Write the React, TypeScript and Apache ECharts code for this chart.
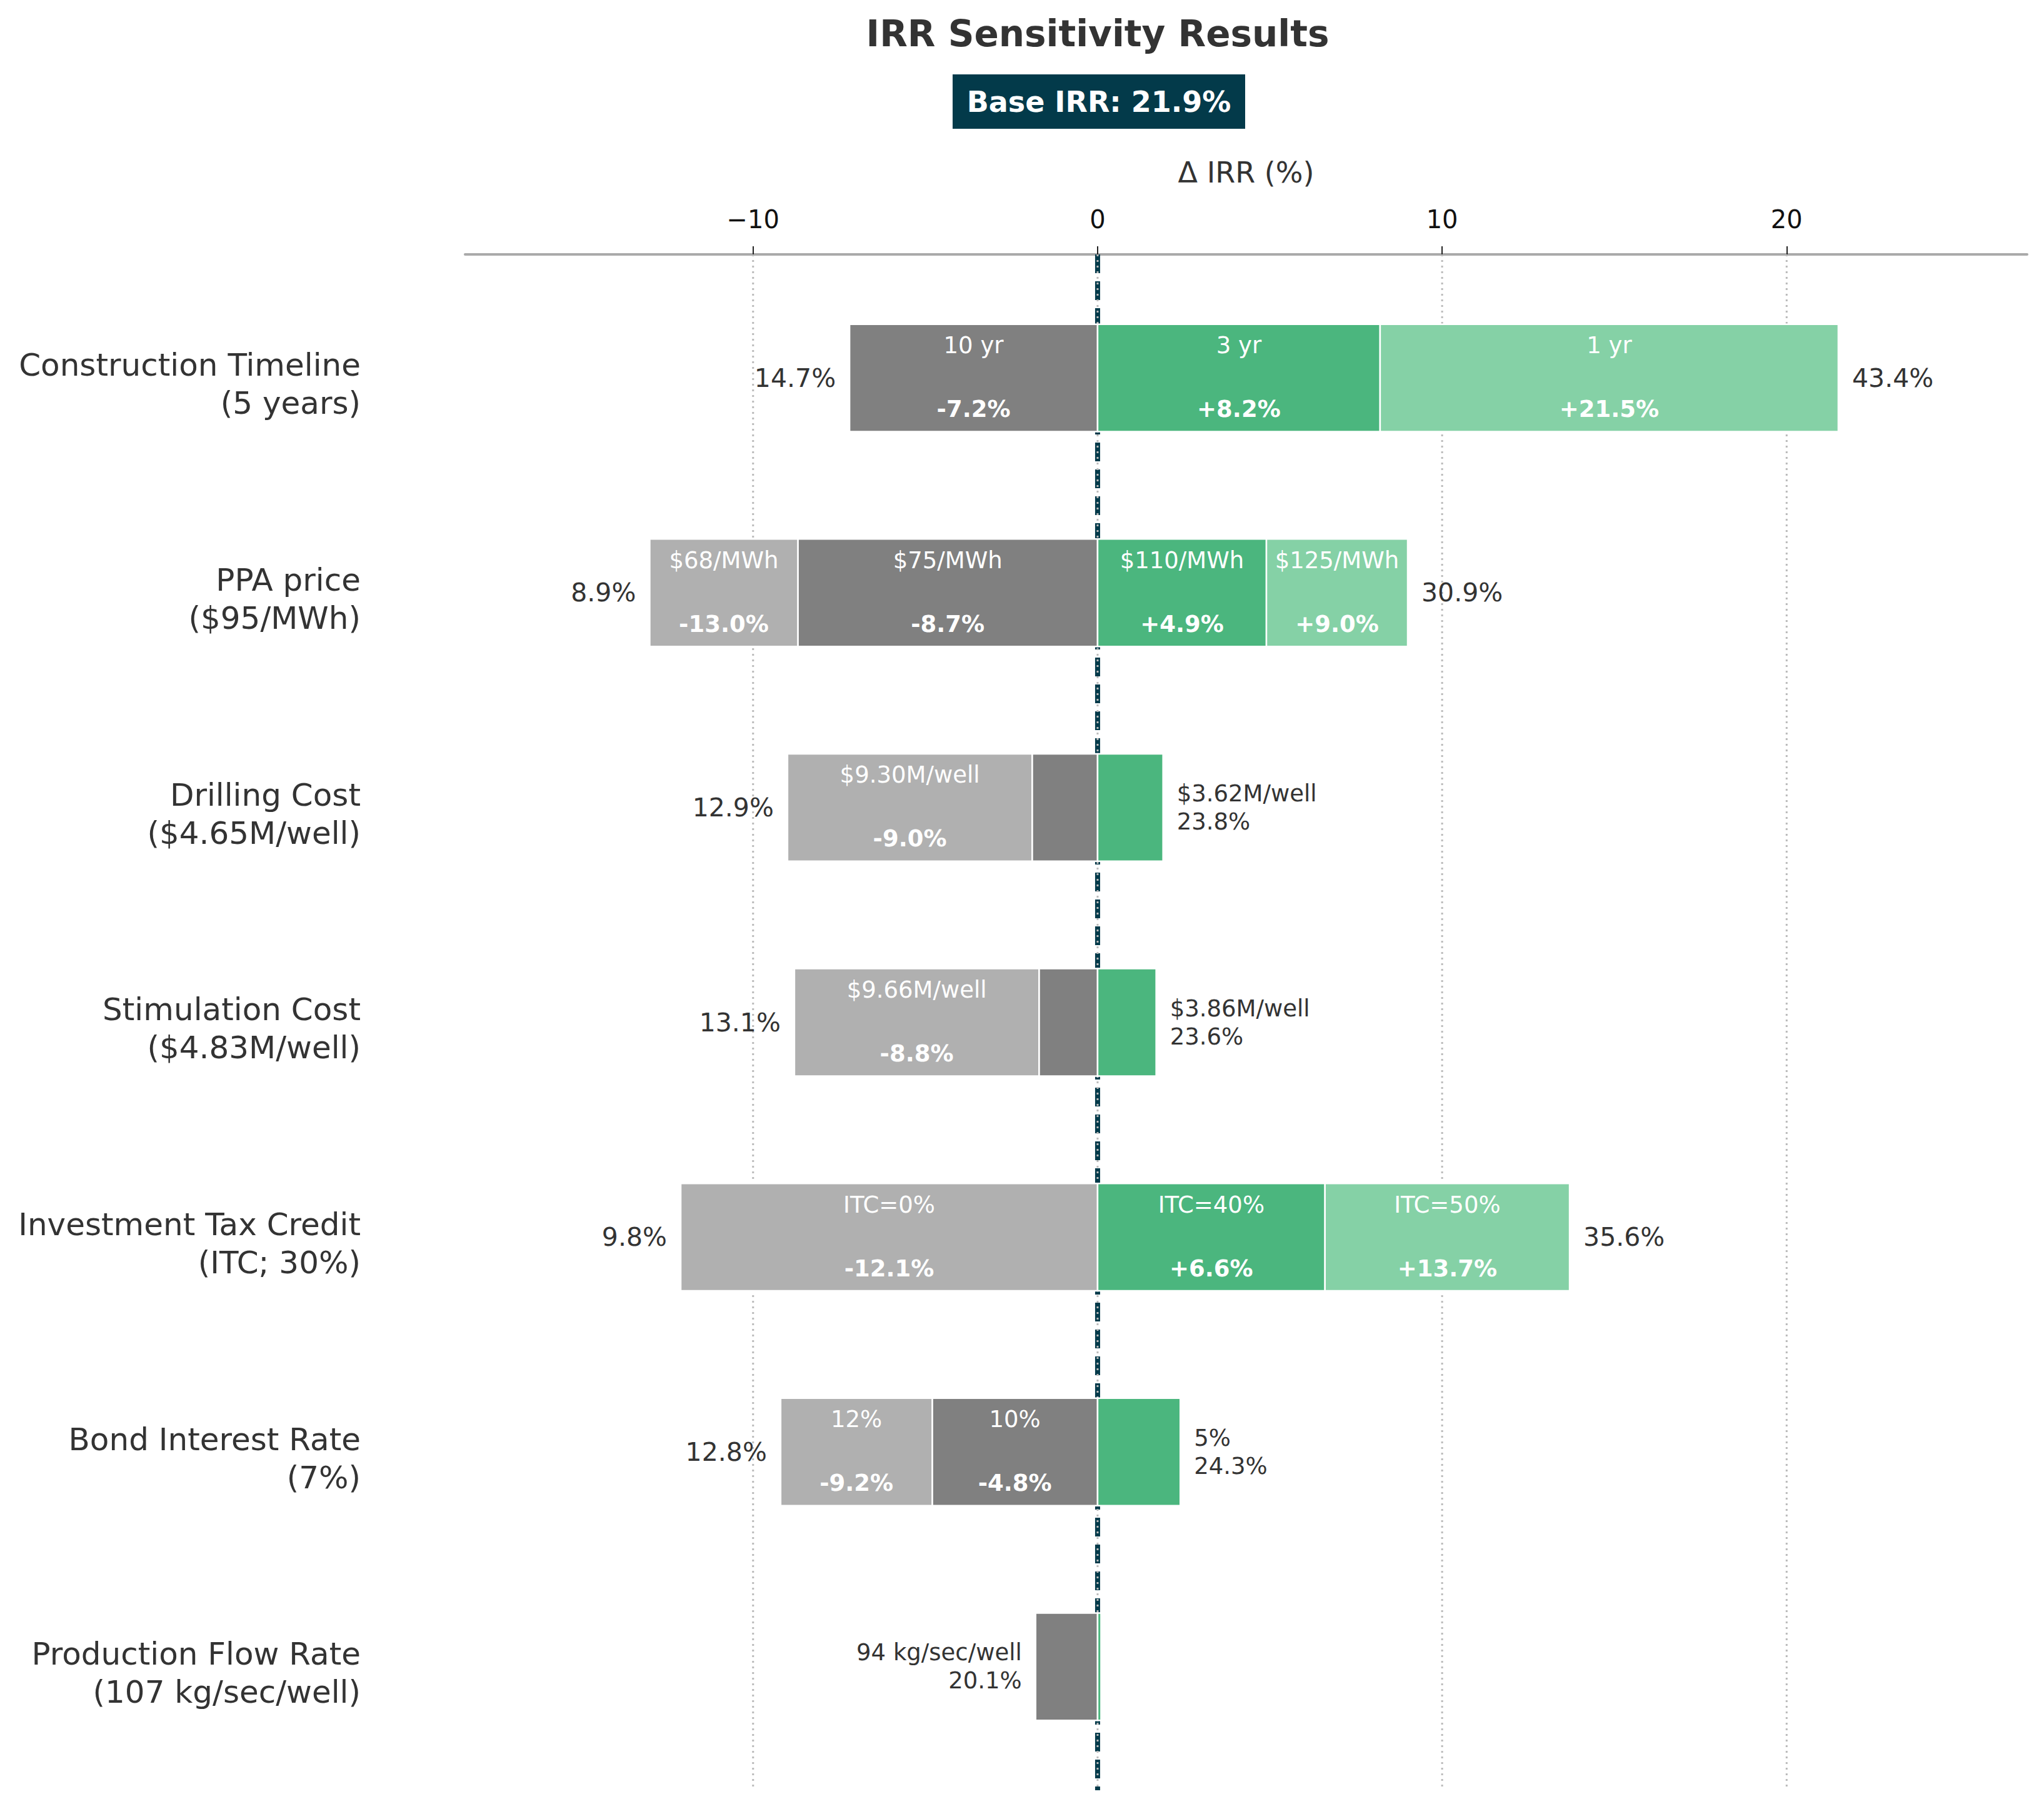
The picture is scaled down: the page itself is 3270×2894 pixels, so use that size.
import React, { useEffect, useRef } from 'react';
import * as echarts from 'echarts';

// factors, top to bottom
const factors = [
  'Construction Timeline\n(5 years)',
  'PPA price\n($95/MWh)',
  'Drilling Cost\n($4.65M/well)',
  'Stimulation Cost\n($4.83M/well)',
  'Investment Tax Credit\n(ITC; 30%)',
  'Bond Interest Rate\n(7%)',
  'Production Flow Rate\n(107 kg/sec/well)',
];

const baseIrr = 21.9;

// change in IRR (percentage points) per case
const lowInner = [-7.2, -8.7, -1.9, -1.7, null, -4.8, -1.8];
const lowOuter = [null, -13.0, -9.0, -8.8, -12.1, -9.2, null];
const highInner = [8.2, 4.9, 1.9, 1.7, 6.6, 2.4, 0.1];
const highOuter = [21.5, 9.0, null, null, 13.7, null, null];

const lowInnerNames = ['10 yr', '$75/MWh', null, null, null, '10%', '94 kg/sec/well'];
const lowOuterNames = [null, '$68/MWh', '$9.30M/well', '$9.66M/well', 'ITC=0%', '12%', null];
const highInnerNames = ['3 yr', '$110/MWh', '$3.62M/well', '$3.86M/well', 'ITC=40%', '5%', null];
const highOuterNames = ['1 yr', '$125/MWh', null, null, 'ITC=50%', null, null];

// resulting IRR at the extreme case of each side
const lowIrr = [14.7, 8.9, 12.9, 13.1, 9.8, 12.8, 20.1];
const highIrr = [43.4, 30.9, 23.8, 23.6, 35.6, 24.3, null];

const xTicks = [-10, 0, 10, 20];

const FONT = 'DejaVu Sans';
const DARK_GRAY = '#808080';
const LIGHT_GRAY = '#b0b0b0';
const GREEN = '#4bb67e';
const LIGHT_GREEN = '#85d1a6';
const TEAL = '#033a4a';

const Y_MIN = -0.575;
const Y_MAX = 6.575;

type Seg = {
  row: number;
  start: number;
  end: number;
  color: string;
  name: string | null;
  outer: boolean;
  irr: number | null;
  side: number;
};

const buildSegments = () => {
  const segs: Seg[] = [];
  factors.forEach((_, i) => {
    const li = lowInner[i];
    const lo = lowOuter[i];
    if (li != null)
      segs.push({ row: i, start: 0, end: li, color: DARK_GRAY, name: lowInnerNames[i], outer: lo == null, irr: lowIrr[i], side: -1 });
    if (lo != null)
      segs.push({ row: i, start: li ?? 0, end: lo, color: LIGHT_GRAY, name: lowOuterNames[i], outer: true, irr: lowIrr[i], side: -1 });
    const hi = highInner[i];
    const ho = highOuter[i];
    if (hi != null)
      segs.push({ row: i, start: 0, end: hi, color: GREEN, name: highInnerNames[i], outer: ho == null, irr: highIrr[i], side: 1 });
    if (ho != null)
      segs.push({ row: i, start: hi ?? 0, end: ho, color: LIGHT_GREEN, name: highOuterNames[i], outer: true, irr: highIrr[i], side: 1 });
  });
  return segs;
};

const fmtDelta = (v: number) => `${v > 0 ? '+' : ''}${v.toFixed(1)}%`;

const App = () => {
  const chartRef = useRef<any>(null);

  useEffect(() => {
    const chart = echarts.init(chartRef.current, null, { renderer: 'svg' });
    const segments = buildSegments();

    const option: any = {
      animation: false,
      backgroundColor: '#ffffff',
      textStyle: { fontFamily: FONT },
      grid: { left: 744, right: 27, top: 407, bottom: 30, containLabel: false },
      xAxis: {
        type: 'value',
        position: 'top',
        min: -18.36,
        max: 26.98,
        name: 'Δ IRR (%)',
        nameLocation: 'middle',
        nameGap: 108,
        nameTextStyle: { fontSize: 46, color: '#333333', fontFamily: FONT },
        axisLine: { show: true, onZero: false, lineStyle: { color: '#aaaaaa', width: 4 } },
        axisTick: { show: true, customValues: xTicks, length: 13, lineStyle: { color: '#222222', width: 2 } },
        axisLabel: {
          customValues: xTicks,
          fontSize: 40,
          color: '#111111',
          margin: 36,
          fontFamily: FONT,
          formatter: (v: number) => (v < 0 ? '\u2212' + Math.abs(v) : String(v)),
        },
        splitLine: { show: false },
      },
      yAxis: {
        type: 'value',
        inverse: true,
        min: Y_MIN,
        max: Y_MAX,
        axisLine: { show: false },
        axisTick: { show: false },
        splitLine: { show: false },
        axisLabel: {
          // matplotlib sets the two-line labels a touch below the bar centre
          customValues: factors.map((_, i) => i + 0.03),
          formatter: (v: number) => factors[Math.round(v)] ?? '',
          fontSize: 50,
          lineHeight: 61,
          color: '#333333',
          margin: 167,
          fontFamily: FONT,
        },
      },
      graphic: [
        {
          type: 'text',
          x: 1756,
          y: 54,
          style: {
            text: 'IRR Sensitivity Results',
            fill: '#333333',
            fontSize: 58,
            fontWeight: 'bold',
            fontFamily: FONT,
            align: 'center',
            verticalAlign: 'middle',
          },
        },
        {
          type: 'rect',
          shape: { x: 1524, y: 119, width: 468, height: 87 },
          style: { fill: TEAL },
        },
        {
          type: 'text',
          x: 1758,
          y: 163,
          style: {
            text: `Base IRR: ${baseIrr.toFixed(1)}%`,
            fill: '#ffffff',
            fontSize: 46,
            fontWeight: 'bold',
            fontFamily: FONT,
            align: 'center',
            verticalAlign: 'middle',
          },
        },
      ],
      series: [
        {
          // base-case line at zero
          type: 'custom',
          z: 1,
          silent: true,
          data: [[0, 0]],
          encode: { x: 0, y: 1 },
          renderItem: (params: any, api: any) => {
            const a = api.coord([api.value(0), Y_MIN]);
            const b = api.coord([api.value(0), Y_MAX]);
            return {
              type: 'line',
              shape: { x1: a[0], y1: a[1], x2: b[0], y2: b[1] },
              style: { stroke: TEAL, lineWidth: 8, lineDash: [30, 13] },
            };
          },
        },
        {
          // dotted vertical grid
          type: 'custom',
          z: 2,
          silent: true,
          data: xTicks.map((t) => [t, 0]),
          encode: { x: 0, y: 1 },
          renderItem: (params: any, api: any) => {
            const a = api.coord([api.value(0), Y_MIN]);
            const b = api.coord([api.value(0), Y_MAX]);
            return {
              type: 'line',
              shape: { x1: a[0], y1: a[1], x2: b[0], y2: b[1] },
              style: { stroke: '#bbbbbb', lineWidth: 3, lineDash: [3, 6] },
            };
          },
        },
        {
          type: 'custom',
          z: 3,
          silent: true,
          data: segments.map((s) => [s.start, s.end, s.row]),
          encode: { x: [0, 1], y: 2 },
          renderItem: (params: any, api: any) => {
            const seg = segments[params.dataIndex];
            const a = api.coord([api.value(0), api.value(2)]);
            const b = api.coord([api.value(1), api.value(2)]);
            const h = api.size([0, 0.5])[1];
            const x0 = Math.min(a[0], b[0]);
            const w = Math.abs(b[0] - a[0]);
            const cy = a[1];
            const cx = x0 + w / 2;
            const children: any[] = [
              {
                type: 'rect',
                shape: { x: x0, y: cy - h / 2, width: w, height: h },
                style: { fill: seg.color, stroke: '#ffffff', lineWidth: 2.5 },
              },
            ];
            const span = Math.abs(seg.end - seg.start);
            if (seg.name && span >= 2.5) {
              children.push(
                {
                  type: 'text',
                  x: cx,
                  y: cy - 52,
                  style: { text: seg.name, fill: '#ffffff', fontSize: 37, fontFamily: FONT, align: 'center', verticalAlign: 'middle' },
                },
                {
                  type: 'text',
                  x: cx,
                  y: cy + 50,
                  style: {
                    text: fmtDelta(seg.end),
                    fill: '#ffffff',
                    fontSize: 37,
                    fontWeight: 'bold',
                    fontFamily: FONT,
                    align: 'center',
                    verticalAlign: 'middle',
                  },
                }
              );
            }
            if (seg.outer && seg.irr != null) {
              const edge = seg.side > 0 ? x0 + w : x0;
              const narrow = span < 2.5 && seg.name;
              children.push({
                type: 'text',
                x: edge + seg.side * 22,
                y: cy,
                style: {
                  text: narrow ? `${seg.name}\n${seg.irr.toFixed(1)}%` : `${seg.irr.toFixed(1)}%`,
                  fill: '#333333',
                  fontSize: narrow ? 37 : 41,
                  lineHeight: narrow ? 45 : 48,
                  fontFamily: FONT,
                  align: seg.side > 0 ? 'left' : 'right',
                  verticalAlign: 'middle',
                },
              });
            }
            return { type: 'group', children };
          },
        },
      ],
    };

    chart.setOption(option);

    return () => {
      chart.dispose();
    };
  }, []);

  return (
    <div
      ref={chartRef}
      style={{ position: 'absolute', left: 0, top: 0, width: '3270px', height: '2894px', background: '#fff' }}
    />
  );
};

export default App;
